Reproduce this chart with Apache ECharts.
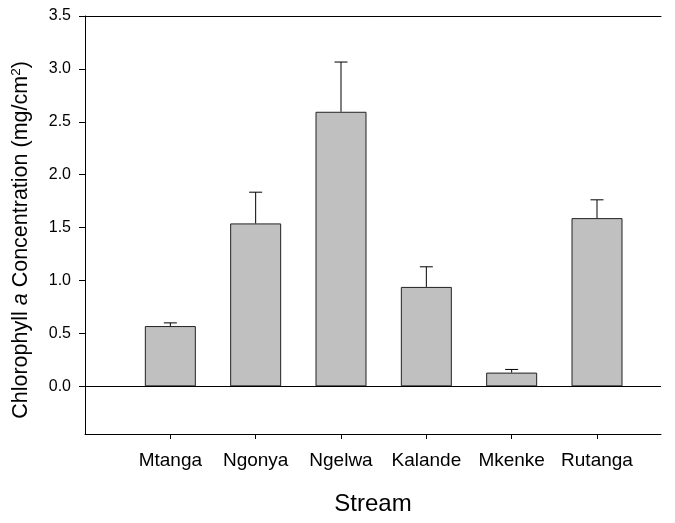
<!DOCTYPE html>
<html>
<head>
<meta charset="utf-8">
<script src="https://cdn.jsdelivr.net/npm/echarts@6/dist/echarts.min.js"></script>
<style>html,body{margin:0;padding:0;background:#fff}#c{width:675px;height:523px}</style>
</head>
<body>
<div id="c"></div>
<script>
var categories = ['Mtanga', 'Ngonya', 'Ngelwa', 'Kalande', 'Mkenke', 'Rutanga'];
var positions = [1, 2, 3, 4, 5, 6];
var means = [0.57, 1.54, 2.595, 0.94, 0.13, 1.59];
var errorTops = [0.60, 1.835, 3.065, 1.13, 0.16, 1.763];
var yTicks = [0, 0.5, 1.0, 1.5, 2.0, 2.5, 3.0, 3.5];

var FONT = '"Liberation Sans", Arial, sans-serif';
var chart = echarts.init(document.getElementById('c'), null, {renderer: 'canvas'});

var barData = positions.map(function (p, i) { return [p, means[i]]; });
var errData = positions.map(function (p, i) { return [p, means[i], errorTops[i]]; });

chart.setOption({
  animation: false,
  backgroundColor: '#fff',
  grid: {left: 85, top: 16, right: 14, bottom: 89, containLabel: false},
  xAxis: [{
    type: 'value', min: 0, max: 6.75, position: 'bottom',
    splitLine: {show: false},
    axisLine: {show: true, onZero: false, lineStyle: {color: '#000', width: 1}},
    axisTick: {show: true, length: 5, inside: false, customValues: positions, lineStyle: {color: '#000'}},
    axisLabel: {
      customValues: positions, margin: 17, color: '#000', fontSize: 19, fontFamily: FONT,
      formatter: function (v) { var i = positions.indexOf(Math.round(v)); return i >= 0 ? categories[i] : ''; }
    },
    name: 'Stream', nameLocation: 'middle', nameGap: 58,
    nameTextStyle: {color: '#000', fontSize: 24, fontFamily: FONT}
  }, {
    type: 'value', min: 0, max: 6.75, position: 'top',
    splitLine: {show: false},
    axisLine: {show: true, onZero: false, lineStyle: {color: '#000', width: 1}},
    axisTick: {show: false}, axisLabel: {show: false}
  }],
  yAxis: {
    type: 'value', min: -0.45, max: 3.5,
    splitLine: {show: false},
    axisLine: {show: true, onZero: false, lineStyle: {color: '#000', width: 1}},
    axisTick: {show: true, length: 6, customValues: yTicks, lineStyle: {color: '#000'}},
    axisLabel: {
      customValues: yTicks, margin: 14, color: '#000', fontSize: 16, fontFamily: FONT,
      formatter: function (v) { return v.toFixed(1); }
    }
  },
  graphic: [{
    type: 'text',
    x: 21, y: 240, rotation: Math.PI / 2,
    style: {
      text: '{n|Chlorophyll }{i|a}{n| Concentration (mg/cm}{s|2}{n|)}',
      align: 'center', verticalAlign: 'middle',
      rich: {
        n: {fontSize: 21.5, fontFamily: FONT, fill: '#000'},
        i: {fontSize: 21.5, fontFamily: FONT, fontStyle: 'italic', fill: '#000'},
        s: {fontSize: 13.5, fontFamily: FONT, fill: '#000', padding: [0, 0, 10, 0]}
      }
    }
  }],
  series: [{
    type: 'bar',
    data: barData,
    barWidth: 51,
    itemStyle: {color: '#c0c0c0', borderColor: '#222', borderWidth: 1},
    markLine: {
      silent: true, symbol: 'none', label: {show: false},
      lineStyle: {color: '#000', width: 1, type: 'solid'},
      data: [{yAxis: 0}]
    },
    z: 2
  }, {
    type: 'custom',
    data: errData,
    z: 3,
    renderItem: function (params, api) {
      var x = api.value(0);
      var base = api.coord([x, api.value(1)]);
      var top = api.coord([x, api.value(2)]);
      var half = 6.5;
      return {
        type: 'group',
        children: [{
          type: 'line',
          shape: {x1: base[0], y1: base[1], x2: top[0], y2: top[1]},
          style: {stroke: '#000', lineWidth: 1}
        }, {
          type: 'line',
          shape: {x1: top[0] - half, y1: top[1], x2: top[0] + half, y2: top[1]},
          style: {stroke: '#000', lineWidth: 1}
        }]
      };
    }
  }]
});
</script>
</body>
</html>
